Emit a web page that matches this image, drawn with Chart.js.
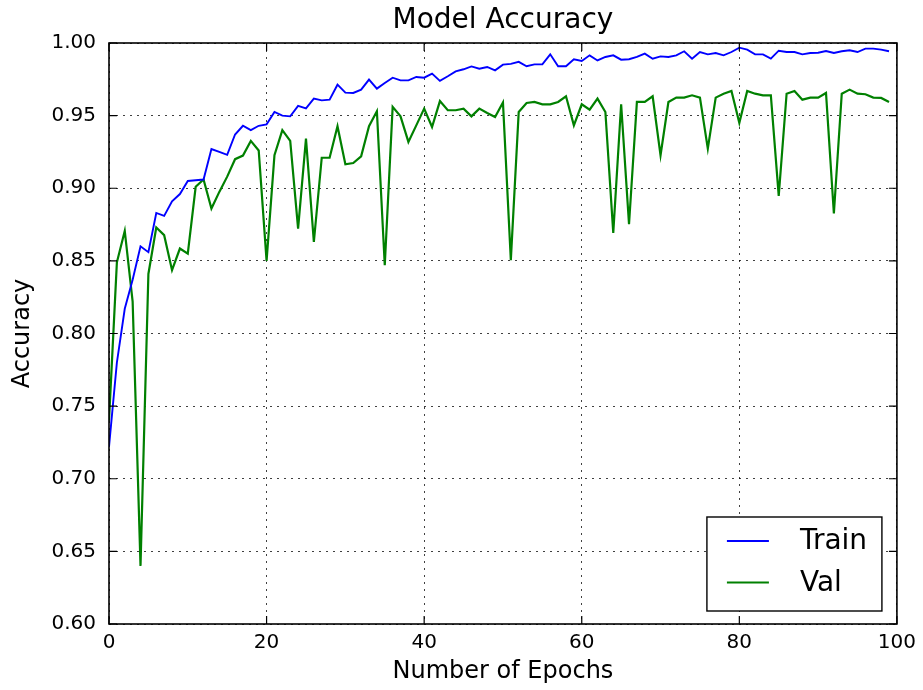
<!DOCTYPE html>
<html>
<head>
<meta charset="utf-8">
<script src="https://cdn.jsdelivr.net/npm/chart.js@4"></script>
<style>
  body { margin: 0; background: #fff; }
  #contenedor { width: 923px; height: 690px; }
</style>
</head>
<body>
<div id="contenedor"><canvas id="chartPrecision"></canvas></div>
<script>
// Datos
const epocas = Array.from({ length: 100 }, (_, i) => i);

const train = [
  0.722, 0.780, 0.817, 0.837, 0.860, 0.856, 0.883, 0.881, 0.891, 0.896,
  0.905, 0.9055, 0.906, 0.927, 0.925, 0.923, 0.937, 0.943, 0.940, 0.943,
  0.944, 0.9525, 0.950, 0.9495, 0.9567, 0.955, 0.9617, 0.9605, 0.961, 0.9713,
  0.9658, 0.9656, 0.9679, 0.9748, 0.9686, 0.9725, 0.9761, 0.9743, 0.9743, 0.9766,
  0.9761, 0.9789, 0.9739, 0.9771, 0.9805, 0.9819, 0.9839, 0.9823, 0.9835, 0.9812,
  0.9851, 0.9856, 0.987, 0.984, 0.9853, 0.9853, 0.9922, 0.984, 0.984, 0.9888,
  0.9876, 0.9915, 0.988, 0.9904, 0.9915, 0.9885, 0.9888, 0.9904, 0.9927, 0.9892,
  0.9908, 0.9904, 0.9915, 0.9943, 0.9892, 0.9938, 0.9922, 0.9931, 0.9915, 0.9938,
  0.9968, 0.9954, 0.9922, 0.9922, 0.9892, 0.9947, 0.9938, 0.9938, 0.9922, 0.9931,
  0.9933, 0.9945, 0.9931, 0.9943, 0.995, 0.9938, 0.9961, 0.9961, 0.9954, 0.9943
];

const val = [
  0.740, 0.849, 0.8706, 0.822, 0.640, 0.841, 0.873, 0.8677, 0.8436, 0.8585,
  0.855, 0.901, 0.906, 0.886, 0.8975, 0.908, 0.920, 0.9225, 0.9326, 0.926,
  0.850, 0.9227, 0.940, 0.9326, 0.8722, 0.9342, 0.863, 0.921, 0.921, 0.9427,
  0.9165, 0.9174, 0.922, 0.9427, 0.953, 0.847, 0.956, 0.9495, 0.9319, 0.9433,
  0.9548, 0.9422, 0.960, 0.9537, 0.9537, 0.9548, 0.9495, 0.9548, 0.9518, 0.9491,
  0.959, 0.8505, 0.9525, 0.9587, 0.9594, 0.9578, 0.9578, 0.9594, 0.9633, 0.9433,
  0.9578, 0.9541, 0.9617, 0.9525, 0.8693, 0.9578, 0.8752, 0.9594, 0.9594, 0.9633,
  0.9227, 0.9594, 0.9624, 0.9624, 0.964, 0.9624, 0.9273, 0.9624, 0.9651, 0.967,
  0.945, 0.967, 0.9651, 0.964, 0.964, 0.8948, 0.9651, 0.967, 0.961, 0.9624,
  0.9624, 0.9656, 0.8826, 0.9651, 0.9679, 0.9651, 0.9647, 0.9624, 0.9622, 0.9594
];

const ticksX = [0, 20, 40, 60, 80, 100];
const ticksY = [0.60, 0.65, 0.70, 0.75, 0.80, 0.85, 0.90, 0.95, 1.00];

const titulo = "Model Accuracy";
const FUENTE = "'DejaVu Sans', sans-serif";

// Marco, ticks hacia dentro, título y leyenda al estilo matplotlib
const estiloMatplotlib = {
  id: "estiloMatplotlib",
  afterDraw(chart) {
    const { ctx, chartArea: a, scales } = chart;
    ctx.save();

    // título centrado sobre el área del gráfico
    ctx.fillStyle = "#000";
    ctx.font = "28px " + FUENTE;
    ctx.textAlign = "center";
    ctx.textBaseline = "middle";
    ctx.fillText(titulo, (a.left + a.right) / 2, 21);

    // ticks hacia dentro en los cuatro lados
    const largo = 8;
    ctx.strokeStyle = "#000";
    ctx.lineWidth = 1.2;
    ctx.beginPath();
    scales.x.ticks.forEach((t) => {
      const px = scales.x.getPixelForValue(t.value);
      ctx.moveTo(px, a.bottom); ctx.lineTo(px, a.bottom - largo);
      ctx.moveTo(px, a.top); ctx.lineTo(px, a.top + largo);
    });
    scales.y.ticks.forEach((t) => {
      const py = scales.y.getPixelForValue(t.value);
      ctx.moveTo(a.left, py); ctx.lineTo(a.left + largo, py);
      ctx.moveTo(a.right, py); ctx.lineTo(a.right - largo, py);
    });
    ctx.stroke();

    // marco
    ctx.lineWidth = 1.6;
    ctx.strokeRect(a.left, a.top, a.right - a.left, a.bottom - a.top);

    // leyenda abajo a la derecha
    const ancho = 175, alto = 94;
    const x0 = a.right - 15 - ancho;
    const y0 = a.bottom - 13 - alto;
    ctx.fillStyle = "#fff";
    ctx.fillRect(x0, y0, ancho, alto);
    ctx.lineWidth = 1.4;
    ctx.strokeRect(x0, y0, ancho, alto);
    ctx.font = "28px " + FUENTE;
    ctx.textAlign = "left";
    chart.data.datasets.forEach((ds, i) => {
      const yy = y0 + 24 + i * 41.5;
      ctx.strokeStyle = ds.borderColor;
      ctx.lineWidth = 1.8;
      ctx.beginPath();
      ctx.moveTo(x0 + 20, yy);
      ctx.lineTo(x0 + 62, yy);
      ctx.stroke();
      ctx.fillStyle = "#000";
      ctx.fillText(ds.label, x0 + 93, yy + 1);
    });

    ctx.restore();
  }
};

const ctx = document.getElementById("chartPrecision").getContext("2d");

new Chart(ctx, {
  type: "line",
  data: {
    labels: epocas,
    datasets: [
      {
        label: "Train",
        data: train,
        borderColor: "#0000ff",
        borderWidth: 1.9,
        pointRadius: 0,
        tension: 0,
        fill: false
      },
      {
        label: "Val",
        data: val,
        borderColor: "#008000",
        borderWidth: 2.2,
        pointRadius: 0,
        tension: 0,
        fill: false
      }
    ]
  },
  options: {
    responsive: true,
    maintainAspectRatio: false,
    animation: false,
    layout: { padding: { top: 43, right: 24, left: 0, bottom: 0 } },
    plugins: {
      legend: { display: false },
      title: { display: false },
      tooltip: { enabled: false }
    },
    scales: {
      x: {
        type: "linear",
        min: 0,
        max: 100,
        afterBuildTicks: (scale) => { scale.ticks = ticksX.map((v) => ({ value: v })); },
        afterFit: (scale) => { scale.height = 66; },
        ticks: {
          color: "#000",
          font: { family: FUENTE, size: 20 },
          padding: 7,
          maxRotation: 0
        },
        grid: { color: "rgba(0,0,0,0.75)", lineWidth: 1, drawTicks: false },
        border: { display: false, dash: [2, 5] },
        title: {
          display: true,
          text: "Number of Epochs",
          color: "#000",
          font: { family: FUENTE, size: 24 },
          padding: { top: 4, bottom: 4 }
        }
      },
      y: {
        min: 0.6,
        max: 1.0,
        afterBuildTicks: (scale) => { scale.ticks = ticksY.map((v) => ({ value: v })); },
        afterFit: (scale) => { scale.width = 109; },
        ticks: {
          color: "#000",
          font: { family: FUENTE, size: 20 },
          padding: 13,
          callback: (v) => Number(v).toFixed(2)
        },
        grid: { color: "rgba(0,0,0,0.75)", lineWidth: 1, drawTicks: false },
        border: { display: false, dash: [2, 5] },
        title: {
          display: true,
          text: "Accuracy",
          color: "#000",
          font: { family: FUENTE, size: 24 },
          padding: { top: 8, bottom: 4 }
        }
      }
    }
  },
  plugins: [estiloMatplotlib]
});
</script>
</body>
</html>
